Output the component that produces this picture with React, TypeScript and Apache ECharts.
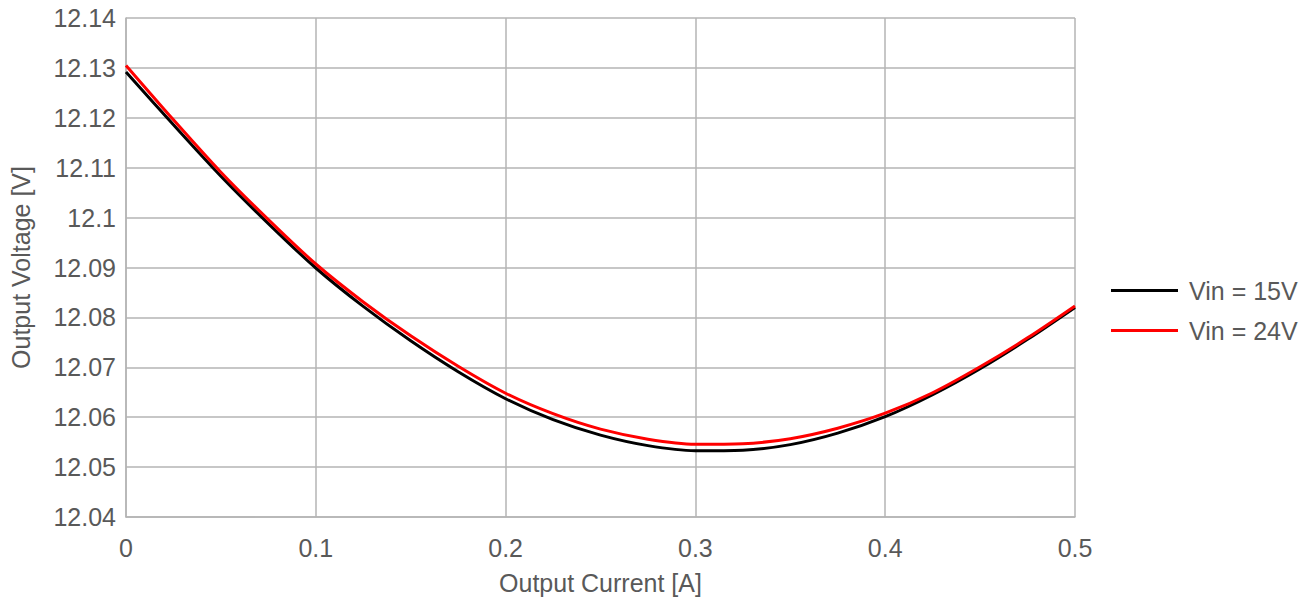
import React, { useEffect, useRef } from "react";
import * as echarts from "echarts";

const currents = [
  0, 0.025, 0.05, 0.075, 0.1, 0.125, 0.15, 0.175, 0.2, 0.225, 0.25,
  0.275, 0.3, 0.325, 0.35, 0.375, 0.4, 0.425, 0.45, 0.475, 0.5,
];
const vin15 = [
  12.1292, 12.1186, 12.1083, 12.0988, 12.0899, 12.0822, 12.0753, 12.0691, 12.0637, 12.0595, 12.0564,
  12.0543, 12.0533, 12.0534, 12.0545, 12.0568, 12.0601, 12.0645, 12.0697, 12.0756, 12.082,
];
const vin24 = [
  12.1305, 12.1196, 12.1091, 12.0996, 12.0907, 12.0831, 12.0763, 12.0702, 12.0648, 12.0607, 12.0576,
  12.0556, 12.0546, 12.0547, 12.0557, 12.0578, 12.0608, 12.0649, 12.0701, 12.0759, 12.0823,
];
const seriesNames = ["Vin = 15V", "Vin = 24V"];
const seriesColors = ["#000000", "#ff0000"];

export default function App() {
  const ref = useRef<HTMLDivElement>(null);
  useEffect(() => {
    if (!ref.current) return;
    const chart = echarts.init(ref.current, undefined, { renderer: "svg" });
    const font = "Liberation Sans, Arial, sans-serif";
    const gridColor = "#b4b4b4";
    const textColor = "#595959";
    const data = [vin15, vin24];
    chart.setOption({
      animation: false,
      textStyle: { fontFamily: font },
      grid: { left: 125, right: 239, top: 18, bottom: 84, containLabel: false },
      legend: {
        orient: "vertical",
        left: 1106,
        top: 273,
        itemWidth: 67,
        itemHeight: 3,
        itemGap: 15,
        icon: "rect",
        textStyle: { fontSize: 25, color: textColor, fontFamily: font, padding: [0, 0, 0, 6] },
        data: seriesNames,
      },
      xAxis: {
        type: "value",
        min: 0,
        max: 0.5,
        interval: 0.1,
        name: "Output Current [A]",
        nameLocation: "middle",
        nameGap: 53,
        nameTextStyle: { fontSize: 25, color: textColor, fontFamily: font },
        axisLine: { show: true, lineStyle: { color: gridColor, width: 1.5 } },
        axisTick: { show: false },
        axisLabel: {
          fontSize: 25,
          color: textColor,
          margin: 18,
          formatter: (v: number) => String(+v.toFixed(2)),
        },
        splitLine: { show: true, lineStyle: { color: gridColor, width: 1.5 } },
      },
      yAxis: {
        type: "value",
        min: 12.04,
        max: 12.14,
        interval: 0.01,
        name: "Output Voltage [V]",
        nameLocation: "middle",
        nameGap: 93,
        nameTextStyle: { fontSize: 25, color: textColor, fontFamily: font },
        axisLine: { show: true, lineStyle: { color: gridColor, width: 1.5 } },
        axisTick: { show: false },
        axisLabel: {
          fontSize: 25,
          color: textColor,
          margin: 10,
          formatter: (v: number) => String(+v.toFixed(2)),
        },
        splitLine: { show: true, lineStyle: { color: gridColor, width: 1.5 } },
      },
      series: data.map((vals, i) => ({
        name: seriesNames[i],
        type: "line",
        smooth: 0.3,
        showSymbol: false,
        symbol: "none",
        lineStyle: { color: seriesColors[i], width: 3 },
        itemStyle: { color: seriesColors[i] },
        data: currents.map((c, j) => [c, vals[j]]),
      })),
    });
    return () => chart.dispose();
  }, []);
  return (
    <div
      ref={ref}
      style={{ position: "fixed", left: 0, top: 0, width: 1314, height: 601, background: "#ffffff" }}
    />
  );
}
